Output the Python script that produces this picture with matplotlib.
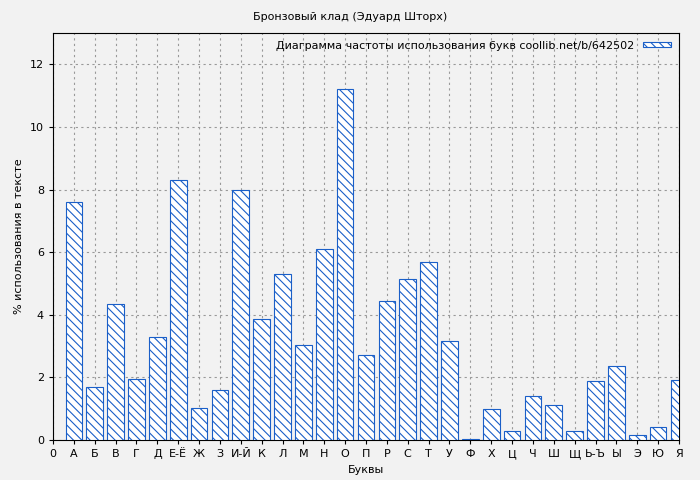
import matplotlib
matplotlib.use("Agg")
import matplotlib.pyplot as plt

letters = ["А","Б","В","Г","Д","Е-Ё","Ж","З","И-Й","К","Л","М","Н","О","П","Р","С","Т","У","Ф","Х","Ц","Ч","Ш","Щ","Ь-Ъ","Ы","Э","Ю","Я"]
values = [7.6,1.7,4.35,1.95,3.28,8.3,1.03,1.6,8.0,3.85,5.3,3.05,6.1,11.22,2.7,4.45,5.15,5.68,3.15,0.02,1.0,0.28,1.42,1.13,0.3,1.87,2.35,0.17,0.42,1.93]

plt.rcParams['hatch.color'] = '#1a5fc8'
plt.rcParams['hatch.linewidth'] = 0.8
fig = plt.figure(figsize=(7,4.8), dpi=100, facecolor='#f2f2f2')
ax = fig.add_axes([53/700, 40/480, 626/700, 407/480])
ax.set_facecolor('#f2f2f2')
pos = list(range(1, len(letters)+1))
ax.bar(pos, values, width=0.8, facecolor='white', edgecolor='#1a5fc8', hatch='\\\\\\\\', linewidth=0.8,
       label='Диаграмма частоты использования букв coollib.net/b/642502', zorder=3)
ax.set_xlim(0, 30)
ax.set_ylim(0, 13)
ax.set_xticks([0]+pos)
ax.set_xticklabels(["0"]+letters, fontsize=8)
ax.set_yticks(range(0, 13, 2))
ax.tick_params(labelsize=8, length=3)
ax.grid(True, linestyle=(0,(2,3)), color='#999999', linewidth=0.8, zorder=0)
ax.set_xlabel('Буквы', fontsize=8)
ax.set_ylabel('% использования в тексте', fontsize=8)
fig.suptitle('Бронзовый клад (Эдуард Шторх)', fontsize=8, y=0.975)
ax.legend(loc='upper right', frameon=False, fontsize=8, markerfirst=False,
          handlelength=2.5, handleheight=0.3, borderaxespad=0.3)
fig.savefig('out.png', dpi=100, facecolor=fig.get_facecolor())
